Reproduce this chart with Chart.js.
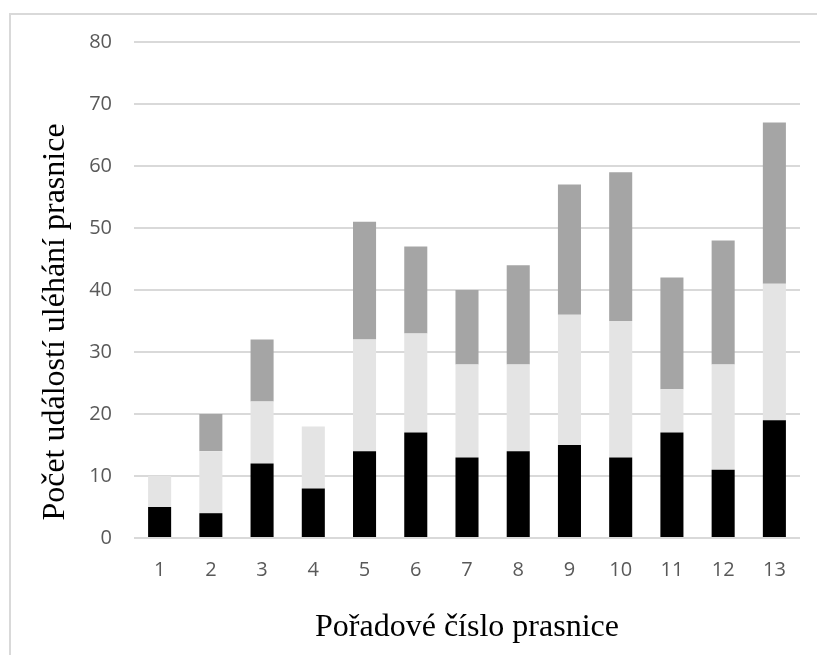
<!DOCTYPE html>
<html>
<head>
<meta charset="utf-8">
<script src="https://cdn.jsdelivr.net/npm/chart.js@4/dist/chart.umd.min.js"></script>
<style>
html,body{margin:0;padding:0;background:#fff;}
#wrap{position:relative;width:817px;height:655px;}
</style>
</head>
<body>
<div id="wrap"><canvas id="c" width="817" height="655"></canvas></div>
<script>
const categories = ['1','2','3','4','5','6','7','8','9','10','11','12','13'];
const seriesBlack = [5, 4, 12, 8, 14, 17, 13, 14, 15, 13, 17, 11, 19];
const seriesLight = [5, 10, 10, 10, 18, 16, 15, 14, 21, 22, 7, 17, 22];
const seriesGray  = [0, 6, 10, 0, 19, 14, 12, 16, 21, 24, 18, 20, 26];
const yTitle = 'Počet událostí uléhání prasnice';
const xTitle = 'Pořadové číslo prasnice';

const borderPlugin = {
  id: 'outerBorder',
  beforeDraw(chart) {
    const ctx = chart.ctx;
    ctx.save();
    ctx.fillStyle = '#fff';
    ctx.fillRect(0, 0, chart.width, chart.height);
    ctx.strokeStyle = '#d9d9d9';
    ctx.lineWidth = 2;
    ctx.beginPath();
    ctx.moveTo(10, chart.height);
    ctx.lineTo(10, 14);
    ctx.lineTo(chart.width, 14);
    ctx.stroke();
    ctx.restore();
  },
  afterDraw(chart) {
    const ctx = chart.ctx;
    const a = chart.chartArea;
    ctx.save();
    ctx.translate(56, (a.top + a.bottom) / 2 + 32);
    ctx.rotate(-Math.PI / 2);
    ctx.fillStyle = '#000';
    ctx.font = '32px "Liberation Serif"';
    ctx.textAlign = 'center';
    ctx.textBaseline = 'middle';
    ctx.fillText(yTitle, 0, 0);
    ctx.restore();
  }
};

const ds = (label, data, color) => ({
  label, data, backgroundColor: color, borderWidth: 0,
  categoryPercentage: 1, barPercentage: 0.45, stack: 's'
});

new Chart(document.getElementById('c'), {
  type: 'bar',
  data: {
    labels: categories,
    datasets: [
      ds('A', seriesBlack, '#000000'),
      ds('B', seriesLight, '#e4e4e4'),
      ds('C', seriesGray, '#a5a5a5')
    ]
  },
  plugins: [borderPlugin],
  options: {
    responsive: false,
    animation: false,
    layout: { padding: { left: 0, right: 17, top: 42, bottom: 0 } },
    plugins: { legend: { display: false }, tooltip: { enabled: false } },
    scales: {
      x: {
        stacked: true,
        grid: { display: false, drawTicks: false },
        border: { display: false },
        ticks: { color: '#595959', font: { family: 'Open Sans', size: 20 }, padding: 20 },
        title: { display: true, text: xTitle, color: '#000', font: { family: 'Liberation Serif', size: 32 }, padding: { top: 0, bottom: 8 } },
        afterFit(s) { s.height = 117; }
      },
      y: {
        stacked: true,
        min: 0, max: 80,
        ticks: { stepSize: 10, color: '#595959', font: { family: 'Open Sans', size: 20 }, padding: 22 },
        grid: { color: '#d9d9d9', lineWidth: 2, drawTicks: false },
        border: { display: false },
        afterFit(s) { s.width = 134; }
      }
    }
  }
});
</script>
</body>
</html>
